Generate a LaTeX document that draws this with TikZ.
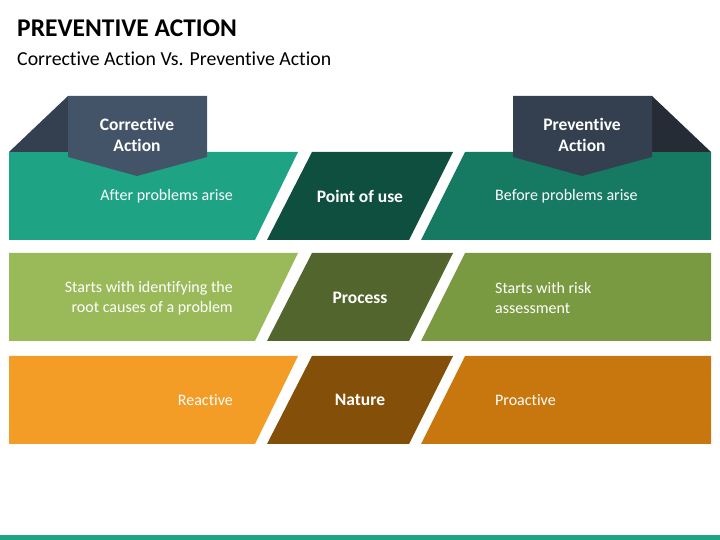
\documentclass[tikz,border=0pt]{standalone}
\usepackage{fontspec}
\setmainfont{Carlito}[RawFeature={-liga}]
\usetikzlibrary{positioning}
\usepackage{xcolor}
\definecolor{tabdark}{RGB}{52, 63, 79}
\definecolor{tablight}{RGB}{67, 83, 104}
\definecolor{tabshade}{RGB}{38, 44, 54}
\definecolor{teal}{RGB}{31, 163, 133}
\definecolor{tealdark}{RGB}{14, 79, 63}
\definecolor{tealmid}{RGB}{22, 122, 98}
\definecolor{lime}{RGB}{154, 186, 90}
\definecolor{limedark}{RGB}{82, 101, 44}
\definecolor{limemid}{RGB}{122, 154, 65}
\definecolor{amber}{RGB}{243, 156, 38}
\definecolor{amberdark}{RGB}{132, 80, 9}
\definecolor{ambermid}{RGB}{199, 119, 14}

\tikzset{
    rowtext/.style={text=white, font=\fontsize{16}{20}\selectfont, inner sep=0pt},
    lefttext/.style={rowtext, align=right, anchor=east},
    righttext/.style={rowtext, align=left, anchor=west},
    midtext/.style={text=white, font=\fontsize{17.5}{20}\selectfont\bfseries, inner sep=0pt},
    tabtext/.style={text=white, font=\fontsize{17.5}{21}\selectfont\bfseries, align=center, inner sep=0pt}
}

\begin{document}
\begin{tikzpicture}[x=1pt, y=1pt]
        \useasboundingbox (0,0) rectangle (720,540);

        % title
        \node (title) [anchor=base west, inner sep=0pt, font=\fontsize{25.5}{30}\selectfont\bfseries]
            at (17,503) {PREVENTIVE ACTION};
        \node (subtitle) [anchor=base west, inner sep=0pt, font=\fontsize{19.8}{24}\selectfont]
            at (17,474) {Corrective Action Vs. Preventive Action};

        % row one
        \fill[teal] (9,300) -- (9,388) -- (298,388) -- (255,300) -- cycle;
        \fill[tealdark] (267,300) -- (312,388) -- (453,388) -- (409,300) -- cycle;
        \fill[tealmid] (421,300) -- (465,388) -- (711,388) -- (711,300) -- cycle;

        % row two
        \fill[lime] (9,199) -- (9,287) -- (298,287) -- (255,199) -- cycle;
        \fill[limedark] (267,199) -- (312,287) -- (453,287) -- (409,199) -- cycle;
        \fill[limemid] (421,199) -- (465,287) -- (711,287) -- (711,199) -- cycle;

        % row three
        \fill[amber] (9,96) -- (9,184) -- (298,184) -- (255,96) -- cycle;
        \fill[amberdark] (267,96) -- (312,184) -- (453,184) -- (409,96) -- cycle;
        \fill[ambermid] (421,96) -- (465,184) -- (711,184) -- (711,96) -- cycle;

        % tabs
        \fill[tabdark] (9,388) -- (68,444) -- (68,388) -- cycle;
        \fill[tablight] (68,444) -- (207,444) -- (207,383) -- (137,364) -- (68,383) -- cycle;
        \fill[tabshade] (652,444) -- (711,388) -- (652,388) -- cycle;
        \fill[tabdark] (513,444) -- (652,444) -- (652,383) -- (582,364) -- (513,383) -- cycle;

        \node (corrective) [tabtext] at (137,405) {Corrective\\Action};
        \node (preventive) [tabtext] at (582,405) {Preventive\\Action};

        % texts
        \node (after) [lefttext] at (233,344) {After problems arise};
        \node (use) [midtext] at (360,344) {Point of use};
        \node (before) [righttext] at (495,344) {Before problems arise};

        \node (root) [lefttext] at (233,242) {Starts with identifying the\\root causes of a problem};
        \node (process) [midtext] at (360,242) {Process};
        \node (risk) [righttext] at (495,242) {Starts with risk\\assessment};

        \node (reactive) [lefttext] at (233,140) {Reactive};
        \node (nature) [midtext] at (360,140) {Nature};
        \node (proactive) [righttext] at (495,140) {Proactive};

        % bottom line
        \fill[teal] (0,0) rectangle (720,5);
    \end{tikzpicture}
\end{document}
